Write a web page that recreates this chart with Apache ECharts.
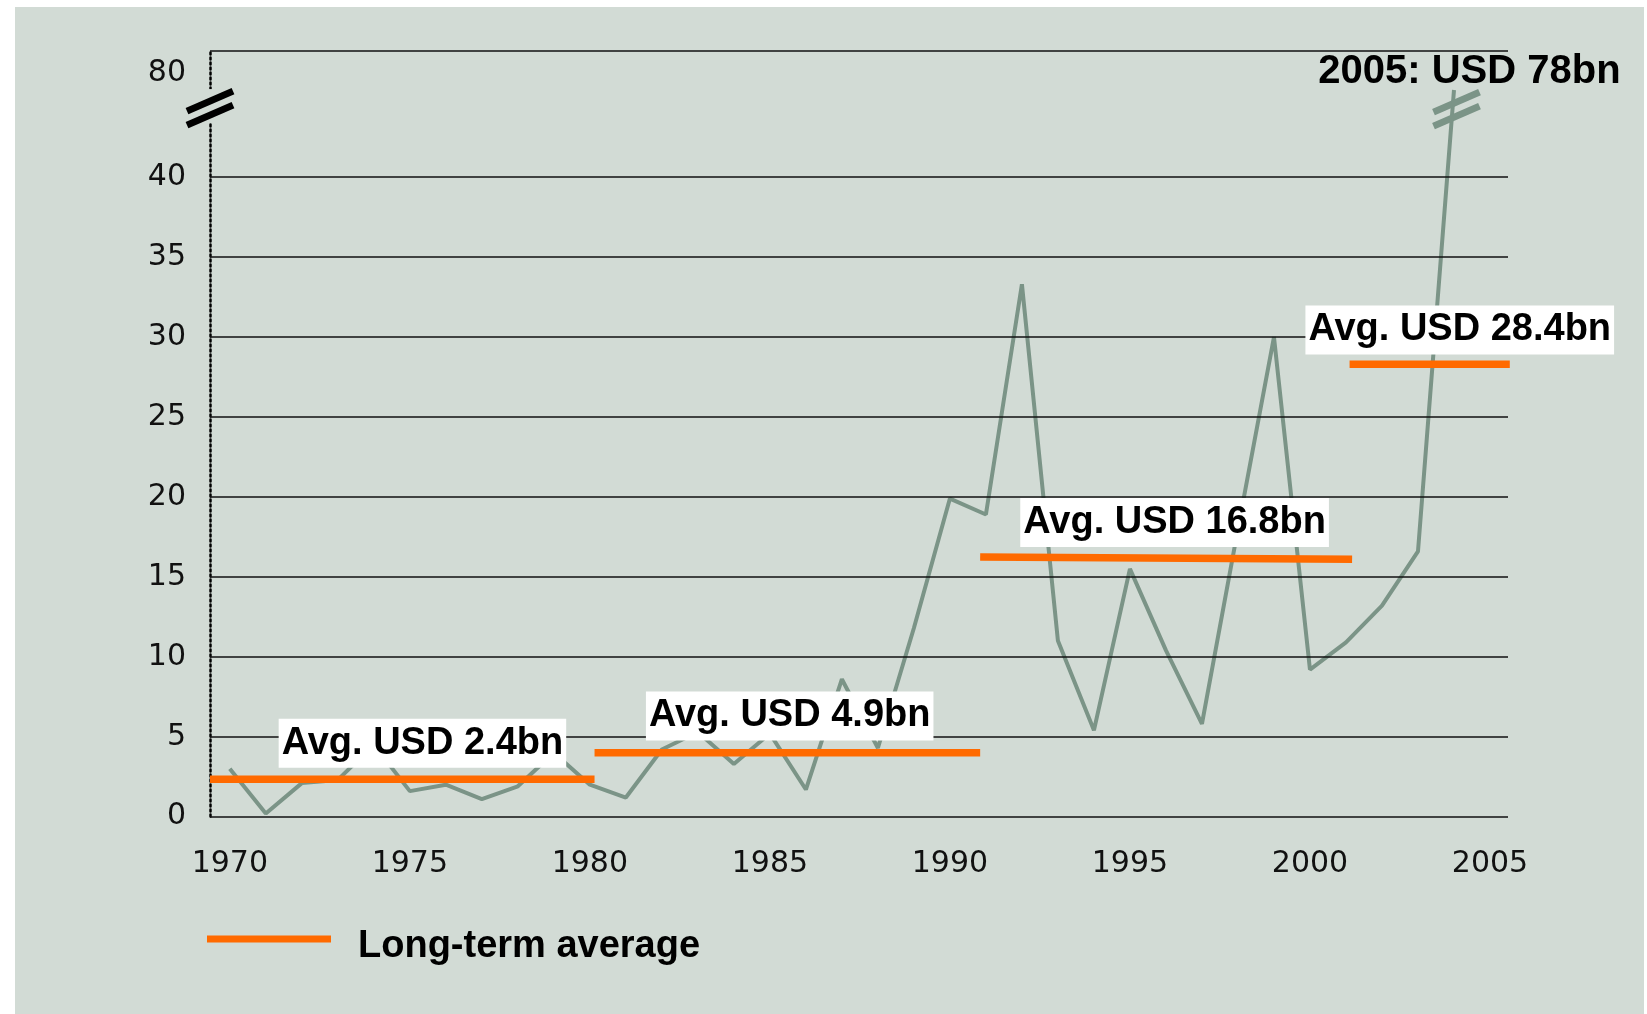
<!DOCTYPE html>
<html>
<head>
<meta charset="utf-8">
<style>
html, body { margin: 0; padding: 0; background: #fff; }
#chart { width: 1647px; height: 1014px; }
</style>
<script src="https://cdn.jsdelivr.net/npm/echarts@6.0.0/dist/echarts.min.js"></script>
</head>
<body>
<div id="chart"></div>
<script>
// yearly values, USD bn
var years = [1970, 1971, 1972, 1973, 1974, 1975, 1976, 1977, 1978, 1979,
             1980, 1981, 1982, 1983, 1984, 1985, 1986, 1987, 1988, 1989,
             1990, 1991, 1992, 1993, 1994, 1995, 1996, 1997, 1998, 1999,
             2000, 2001, 2002, 2003, 2004];
var values = [3.0, 0.2, 2.1, 2.3, 4.5, 1.6, 2.0, 1.1, 1.9, 4.0,
              2.0, 1.2, 4.2, 5.3, 3.3, 5.2, 1.7, 8.6, 4.3, 11.8,
              19.9, 18.9, 33.3, 11.0, 5.4, 15.5, 10.4, 5.8, 18.0, 30.0,
              9.2, 10.9, 13.2, 16.6, 78];

// long-term average segments
var avgLabels = ['Avg. USD 2.4bn', 'Avg. USD 4.9bn', 'Avg. USD 16.8bn', 'Avg. USD 28.4bn'];
var avgStart = [1969.45, 1980.13, 1990.84, 2001.1];
var avgEnd = [1980.13, 1990.84, 2001.17, 2005.55];
var avgFrom = [2.35, 4.0, 16.25, 28.3];
var avgTo = [2.35, 4.0, 16.1, 28.3];

var gridTicks = [0, 5, 10, 15, 20, 25, 30, 35, 40];
var yTickLabels = [0, 5, 10, 15, 20, 25, 30, 35, 40, 80];
var xTickLabels = [1970, 1975, 1980, 1985, 1990, 1995, 2000, 2005];
var topNote = '2005: USD 78bn';
var legendName = 'Long-term average';

// axis layout
var X_MIN = 1969.45, X_MAX = 2005.5;
var Y_MAX = 81.4;
var BREAK_START = 43.5, BREAK_END = 79;

// where the text boxes sit, in data units
var labelAnchors = [[1975.35, 4.6], [1985.55, 6.3], [1996.24, 18.4], [2004.16, 30.45]];
var noteAnchor = [2004.43, 80.1];

var BG = '#d2dbd5';
var LINE = '#7b9487';
var ORANGE = '#ff6a00';
var TICK_FONT = '"DejaVu Sans", sans-serif';
var BOLD_FONT = '"Liberation Sans", Arial, sans-serif';

var series = [{
    type: 'line',
    data: [],
    silent: true,
    z: 1,
    markLine: {
        silent: true,
        symbol: ['none', 'none'],
        label: { show: false },
        lineStyle: { color: '#111', width: 1.5, type: 'solid' },
        emphasis: { disabled: true },
        animation: false,
        data: gridTicks.concat([Y_MAX]).map(function (v) { return { yAxis: v }; })
    }
}, {
    type: 'line',
    name: 'value',
    data: years.map(function (y, i) { return [y, values[i]]; }),
    symbol: 'none',
    lineStyle: { color: LINE, width: 4 },
    itemStyle: { color: LINE },
    z: 3
}];

avgStart.forEach(function (s, i) {
    series.push({
        type: 'line',
        name: legendName,
        data: [[s, avgFrom[i]], [avgEnd[i], avgTo[i]]],
        symbol: 'none',
        lineStyle: { color: ORANGE, width: 7.5, cap: 'butt' },
        itemStyle: { color: ORANGE },
        z: 4
    });
});

var option = {
    animation: false,
    backgroundColor: 'transparent',
    grid: { left: 210, right: 139, top: 50.7, bottom: 197.3, containLabel: false, outerBoundsMode: 'none' },
    legend: {
        // bar drawn in the upper part of a taller icon box so it sits a little above the text middle
        data: [{ name: legendName, icon: 'path://M0,0L124,0L124,7L0,7Z M0,23L0.01,23' }],
        left: 202, top: 923,
        itemWidth: 124, itemHeight: 23,
        selectedMode: false,
        textStyle: {
            fontSize: 38, fontWeight: 'bold', color: '#000',
            fontFamily: BOLD_FONT,
            padding: [0, 0, 0, 22]
        }
    },
    xAxis: {
        type: 'value', min: X_MIN, max: X_MAX,
        axisLine: { show: false },
        axisTick: { show: false },
        splitLine: { show: false },
        axisLabel: {
            customValues: xTickLabels,
            formatter: function (v) { return String(v); },
            fontSize: 30, fontFamily: TICK_FONT, color: '#111', margin: 33
        }
    },
    yAxis: {
        type: 'value', min: 0, max: Y_MAX, interval: 5,
        breaks: [{ start: BREAK_START, end: BREAK_END, gap: '4.2%' }],
        breakArea: { show: false },
        axisLine: { show: true, lineStyle: { color: '#000', width: 2.5, type: [2, 3] } },
        axisTick: { show: false },
        splitLine: { show: false },
        axisLabel: {
            customValues: yTickLabels,
            formatter: function (v) { return String(v); },
            fontSize: 30, fontFamily: TICK_FONT, color: '#111', margin: 24,
            padding: [8, 0, 0, 0]
        }
    },
    tooltip: { show: false },
    series: series
};

var chart = echarts.init(document.getElementById('chart'));
chart.setOption(option);

function px(x, y) { return chart.convertToPixel({ gridIndex: 0 }, [x, y]); }

function slashes(cx, cy, color, id) {
    return {
        type: 'group', id: id, x: cx, y: cy, z: 60,
        children: [-7, 7].map(function (dy) {
            return {
                type: 'line', silent: true, z: 60,
                shape: { x1: -23, y1: dy + 10, x2: 23, y2: dy - 10 },
                style: { stroke: color, lineWidth: 7, lineCap: 'butt' }
            };
        })
    };
}

var midBreak = (BREAK_START + BREAK_END) / 2;
var axisMid = px(X_MIN, midBreak);
var gapTop = px(X_MIN, BREAK_END)[1];
var gapBottom = px(X_MIN, BREAK_START)[1];
var n = years.length;
var pA = px(years[n - 2], values[n - 2]);
var pB = px(years[n - 1], values[n - 1]);
var crossY = axisMid[1] + 4;
var t = (crossY - pA[1]) / (pB[1] - pA[1]);
var lineCross = [pA[0] + t * (pB[0] - pA[0]) + 4, crossY];

var graphics = [{
    type: 'rect', id: 'panel', silent: true, z: -100,
    shape: { x: 15, y: 7, width: 1629, height: 1007 },
    style: { fill: BG }
}, {
    type: 'rect', id: 'axisgap', silent: true, z: 55,
    shape: { x: axisMid[0] - 4, y: gapTop, width: 8, height: gapBottom - gapTop },
    style: { fill: BG }
},
slashes(axisMid[0], axisMid[1] + 3, '#000', 'axisSlash'),
slashes(lineCross[0], lineCross[1], LINE, 'lineSlash')];

labelAnchors.forEach(function (a, i) {
    var p = px(a[0], a[1]);
    graphics.push({
        type: 'text', id: 'avg' + i, x: p[0], y: p[1], z: 70, silent: true,
        style: {
            text: avgLabels[i], font: 'bold 38px ' + BOLD_FONT, fill: '#000',
            align: 'center', verticalAlign: 'middle',
            textAlign: 'center', textVerticalAlign: 'middle',
            backgroundColor: '#fff', padding: [5, 3, 2, 3], lineHeight: 42
        }
    });
});

var np = px(noteAnchor[0], noteAnchor[1]);
graphics.push({
    type: 'text', id: 'note', x: np[0], y: np[1], z: 70, silent: true,
    style: {
        text: topNote, font: 'bold 40px ' + BOLD_FONT, fill: '#000',
        align: 'center', verticalAlign: 'middle',
        textAlign: 'center', textVerticalAlign: 'middle'
    }
});

chart.setOption({ graphic: graphics });
</script>
</body>
</html>
